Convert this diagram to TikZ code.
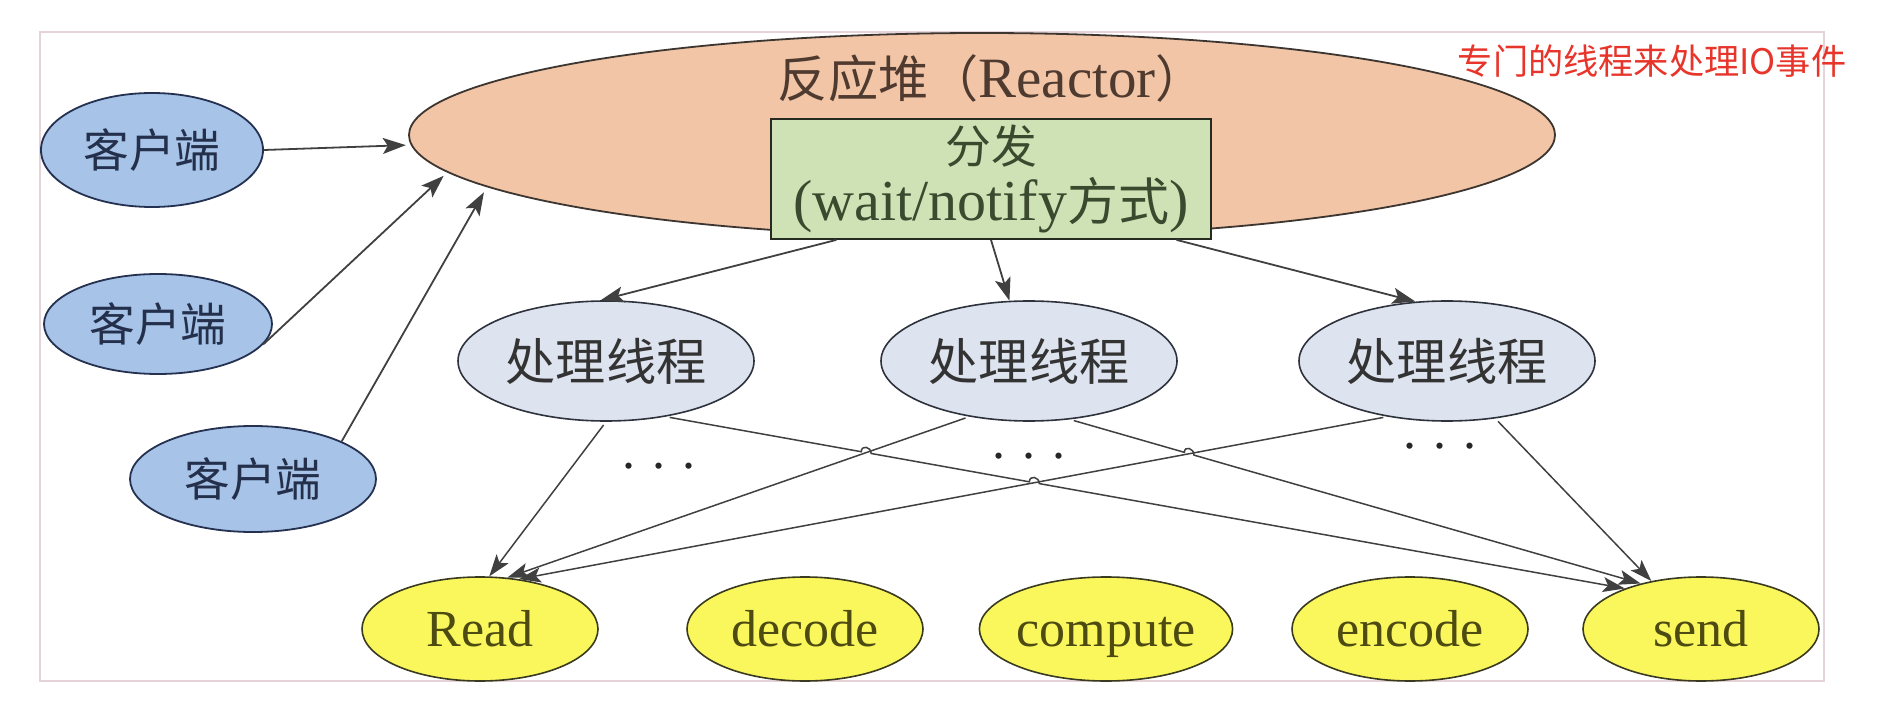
\documentclass[tikz,border=0pt]{standalone}
\usepackage{fontspec}
\setmainfont{Liberation Serif}
\newfontfamily\cjk[Scale=0.88]{Noto Sans CJK SC}
\usetikzlibrary{shapes.geometric,arrows.meta,calc,intersections}
\definecolor{framecol}{HTML}{E5D3D8}
\definecolor{clientfill}{HTML}{A7C3E8}
\definecolor{clientdraw}{HTML}{243150}
\definecolor{clienttext}{HTML}{24304B}
\definecolor{reactorfill}{HTML}{F1C5A6}
\definecolor{reactordraw}{HTML}{3D3530}
\definecolor{titletext}{HTML}{4F3A30}
\definecolor{dispfill}{HTML}{CFE2B5}
\definecolor{dispdraw}{HTML}{262B22}
\definecolor{disptext}{HTML}{3B4A2E}
\definecolor{workerfill}{HTML}{DEE4EF}
\definecolor{workerdraw}{HTML}{2E323C}
\definecolor{taskfill}{HTML}{F9F75C}
\definecolor{taskdraw}{HTML}{3A3A20}
\definecolor{tasktext}{HTML}{4D4A12}
\definecolor{linecol}{HTML}{404040}
\definecolor{notecol}{HTML}{E8352B}
\begin{document}
\begin{tikzpicture}[x=1pt,y=-1pt,
  every node/.style={font=\fontsize{52}{57}\selectfont},
  framebox/.style={draw=framecol,line width=1.5pt},
  client/.style={ellipse,draw=clientdraw,fill=clientfill,line width=1.8pt,inner sep=0pt,text=clienttext},
  reactor/.style={ellipse,draw=reactordraw,fill=reactorfill,line width=1.8pt,inner sep=0pt,minimum width=1146pt,minimum height=204pt},
  dispatch/.style={rectangle,draw=dispdraw,fill=dispfill,line width=1.8pt,minimum width=440pt,minimum height=120pt,align=center,text=disptext},
  worker/.style={ellipse,draw=workerdraw,fill=workerfill,line width=1.6pt,inner sep=0pt,minimum width=296pt,minimum height=120pt,text=black!80,font=\fontsize{57}{60}\selectfont},
  task/.style={ellipse,draw=taskdraw,fill=taskfill,line width=1.6pt,inner sep=0pt,minimum width=236pt,minimum height=104pt,text=tasktext,text height=35pt,text depth=0pt},
  dots/.style={inner sep=0pt,text=black!85},
  note/.style={font=\fontsize{40}{44}\cjk,text=notecol,inner sep=0pt},
  arrow/.style={draw=linecol,line width=1.8pt,-{Stealth[length=23pt,width=16pt,inset=5pt]}},
  link/.style={draw=linecol,line width=1.5pt,shorten <=4pt,-{Stealth[length=22pt,width=15pt,inset=5pt]}}]
\useasboundingbox (0,0) rectangle (1890,708);
\draw[framebox] (40,32) rectangle (1824,681);
% clients
\node[client,minimum width=222pt,minimum height=114pt] (c1) at (152,150) {\cjk 客户端};
\node[client,minimum width=228pt,minimum height=100pt] (c2) at (158,324) {\cjk 客户端};
\node[client,minimum width=246pt,minimum height=106pt] (c3) at (253,479) {\cjk 客户端};
% reactor
\node[reactor] (reactor) at (982,135) {};
\node[text=titletext,inner sep=0pt,font=\fontsize{57}{60}\selectfont] (title) at (992,78) {{\cjk 反应堆（}Reactor{\cjk ）}};
\node[dispatch] (disp) at (991,179) {{\cjk 分发}\\{\fontsize{58}{57}\selectfont(wait/notify{\cjk 方式})}};
% threads
\node[worker] (t1) at (606,361) {\cjk 处理线程};
\node[worker] (t2) at (1029,361) {\cjk 处理线程};
\node[worker] (t3) at (1447,361) {\cjk 处理线程};
\node[dots] (d1) at (659,466) {.\,\,.\,\,.};
\node[dots] (d2) at (1029,456) {.\,\,.\,\,.};
\node[dots] (d3) at (1440,446) {.\,\,.\,\,.};
% tasks
\node[task] (read) at (480,629) {Read};
\node[task] (decode) at (805,629) {decode};
\node[task] (compute) at (1106,629) {compute};
\node[task] (encode) at (1410,629) {encode};
\node[task] (send) at (1701,629) {send};
% note
\node[note] (note) at (1652,61) {专门的线程来处理IO事件};
% clients to reactor
\draw[arrow,shorten >=5pt] (c1.east) -- (reactor.181);
\draw[arrow,shorten >=5pt] (c2.-11) -- (reactor.184);
\draw[arrow,shorten >=6pt] (c3.23) -- (reactor.186);
% dispatch to threads
\draw[arrow] ($(disp.south west)!0.15!(disp.south east)$) -- (t1.95);
\draw[arrow] (disp.south) -- (t2.108);
\draw[arrow] ($(disp.south west)!0.92!(disp.south east)$) -- (t3.118);
% threads to read
\draw[link,name path=r1] (t1.-90) -- (read.80);
\draw[link,name path=r2] (t2.223) -- (read.62);
\draw[link,name path=r3] (t3.223) -- (read.52);
% threads to send, hopping over the read lines
\path[name path=s1] (t1.-43) -- (send.152);
\path[name path=s2] (t2.-55) -- (send.143);
\path[name intersections={of=s1 and r2,by=h1}];
\path[name intersections={of=s1 and r3,by=h2}];
\path[name intersections={of=s2 and r3,by=h3}];
\draw[link] (t1.-43) -- ($(h1)!5pt!(t1.-43)$) .. controls +(0,7pt) and +(0,7pt) .. ($(h1)!5pt!(send.152)$)
  -- ($(h2)!5pt!(t1.-43)$) .. controls +(0,7pt) and +(0,7pt) .. ($(h2)!5pt!(send.152)$) -- (send.152);
\draw[link] (t2.-55) -- ($(h3)!5pt!(t2.-55)$) .. controls +(0,7pt) and +(0,7pt) .. ($(h3)!5pt!(send.143)$) -- (send.143);
\draw[link] (t3.-50) -- (send.136);
\end{tikzpicture}
\end{document}
